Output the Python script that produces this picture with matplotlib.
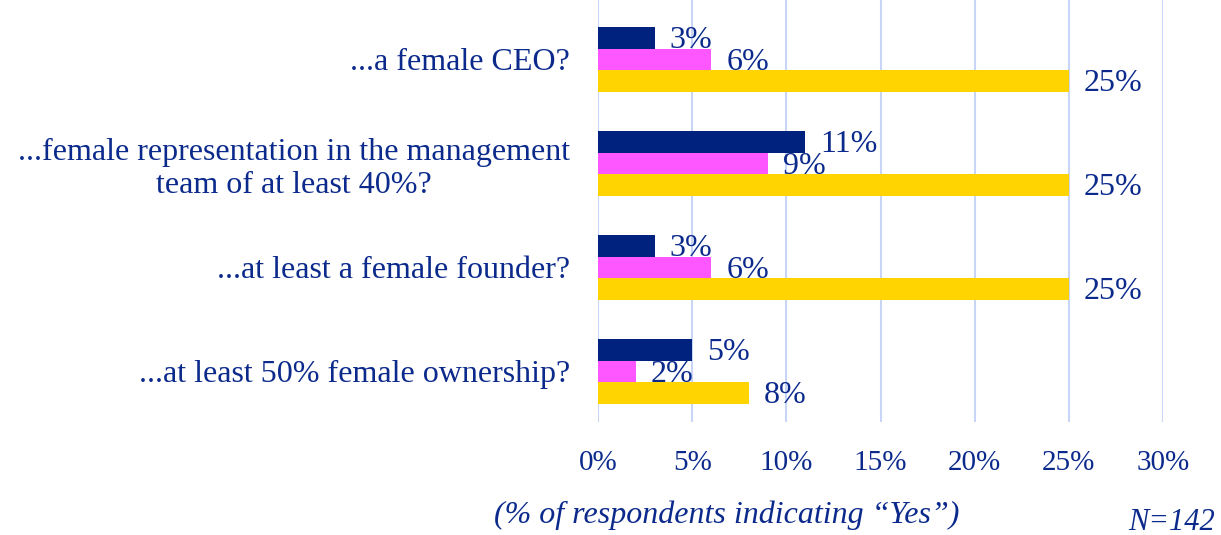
import numpy as np
import matplotlib.pyplot as plt

plt.rcParams['font.family'] = ['Liberation Serif', 'DejaVu Serif']

# Survey data
categories = ['...a female CEO?',
              '...female representation in the management\nteam of at least 40%?',
              '...at least a female founder?',
              '...at least 50% female ownership?']
navy_vals = [3, 11, 3, 5]
pink_vals = [6, 9, 6, 2]
gold_vals = [25, 25, 25, 8]
xticks = [0, 5, 10, 15, 20, 25, 30]

text_color = '#0B2A8C'
colors = ['#00227F', '#FF57FF', '#FFD400']

fig = plt.figure(figsize=(12.21, 5.35), dpi=100)
ax = fig.add_axes([598 / 1221, 1 - 422 / 535, 565 / 1221, 422 / 535])

y = np.arange(len(categories))
h = 0.208
for i, (vals, c) in enumerate(zip([navy_vals, pink_vals, gold_vals], colors)):
    pos = y + (i - 1) * h
    ax.barh(pos, vals, height=h, color=c, zorder=3)
    for p, v in zip(pos, vals):
        ax.annotate(f'{v}%', (v, p), xytext=(11, -2), textcoords='offset points',
                    ha='left', va='center', fontsize=23, color=text_color, zorder=4)

ax.set_xlim(0, 30)
ax.set_ylim(3.486, -0.572)
ax.set_xticks(xticks)
ax.set_xticklabels([f'{t}%' for t in xticks])
ax.set_yticks(y)
ax.set_yticklabels(categories, multialignment='center')
ax.tick_params(axis='y', length=0, labelsize=23, labelcolor=text_color, pad=20)
ax.tick_params(axis='x', length=0, labelsize=21, labelcolor=text_color, pad=20)
for s in ax.spines.values():
    s.set_visible(False)
ax.grid(axis='x', color='#C8D5F7', linewidth=1.5, zorder=0)

fig.text(727 / 1221, 1 - 515 / 535, '(% of respondents indicating \u201cYes\u201d)',
         ha='center', va='center', fontsize=23, style='italic', color=text_color)
fig.text(1215 / 1221, 1 - 522 / 535, 'N=142', ha='right', va='center',
         fontsize=22, style='italic', color=text_color)

fig.savefig('out.png', dpi=100)
